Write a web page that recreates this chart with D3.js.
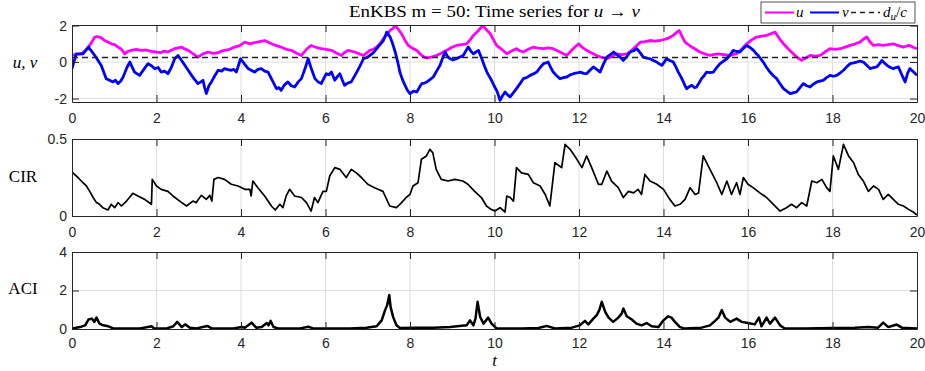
<!DOCTYPE html>
<html>
<head>
<meta charset="utf-8">
<script src="https://cdn.jsdelivr.net/npm/d3@7"></script>
<style>
body { margin: 0; background: #fff; }
svg { display: block; }
.tick text { font-family: "Liberation Sans", Arial, sans-serif; font-size: 14px; fill: #262626; }
.serif { font-family: "Liberation Serif", "DejaVu Serif", serif; fill: #000; }
</style>
</head>
<body>
<div id="chart"></div>
<script>
// ---- data ----
var xTicks = [0, 2, 4, 6, 8, 10, 12, 14, 16, 18, 20];
var uvTicks = [-2, 0, 2];
var cirTicks = [0, 0.5];
var aciTicks = [0, 2, 4];
var duc = 0.25;

var uTime = [0,0.1,0.22,0.3,0.38,0.46,0.54,0.6,0.65,0.71,0.77,0.85,0.93,1.01,1.09,1.17,1.25,1.32,1.4,1.52,1.64,1.76,1.88,2.0,2.1,2.18,2.27,2.35,2.43,2.51,2.59,2.67,2.75,2.87,2.98,3.1,3.22,3.34,3.46,3.54,3.61,3.73,3.85,3.97,4.09,4.2,4.32,4.44,4.56,4.64,4.72,4.84,4.95,5.07,5.19,5.31,5.43,5.55,5.66,5.78,5.9,6.02,6.14,6.26,6.38,6.45,6.53,6.61,6.69,6.8,6.9,6.98,7.05,7.13,7.21,7.29,7.37,7.45,7.53,7.6,7.65,7.72,7.8,7.88,7.96,8.06,8.16,8.22,8.28,8.34,8.4,8.52,8.63,8.75,8.87,8.98,9.1,9.22,9.34,9.42,9.5,9.61,9.72,9.8,9.9,9.98,10.05,10.17,10.29,10.4,10.52,10.6,10.68,10.8,10.92,11.04,11.16,11.28,11.39,11.55,11.71,11.85,11.99,12.08,12.18,12.3,12.42,12.54,12.66,12.78,12.89,13.01,13.13,13.23,13.33,13.45,13.56,13.68,13.8,13.92,14.07,14.15,14.23,14.3,14.37,14.44,14.51,14.59,14.67,14.76,14.86,14.98,15.1,15.2,15.3,15.44,15.57,15.65,15.73,15.85,15.97,16.08,16.2,16.32,16.44,16.54,16.64,16.74,16.84,16.96,17.07,17.17,17.27,17.37,17.47,17.59,17.71,17.82,17.94,18.06,18.18,18.3,18.42,18.54,18.65,18.73,18.81,18.89,18.97,19.08,19.2,19.32,19.44,19.56,19.68,19.76,19.83,19.92,20];
var uValues = [0.36,0.42,0.45,0.6,0.8,1.05,1.37,1.4,1.37,1.3,1.18,1.1,1.0,0.95,0.82,0.7,0.45,0.58,0.64,0.7,0.64,0.66,0.58,0.55,0.51,0.6,0.55,0.65,0.73,0.78,0.82,0.72,0.64,0.45,0.27,0.45,0.55,0.48,0.51,0.6,0.64,0.7,0.82,0.9,1.09,1.0,1.06,1.12,1.18,1.1,1.0,0.9,0.82,0.7,0.64,0.5,0.36,0.7,0.91,0.8,0.73,0.7,0.64,0.5,0.36,0.52,0.64,0.6,0.55,0.45,0.36,0.5,0.64,0.7,0.82,1.0,1.27,1.5,1.73,1.85,2.0,1.8,1.55,1.2,0.91,0.75,0.64,0.5,0.36,0.28,0.22,0.28,0.36,0.5,0.64,0.8,0.91,0.95,1.0,1.2,1.46,1.7,2.0,1.8,1.55,1.2,0.91,0.7,0.45,0.6,0.73,0.62,0.55,0.7,0.82,0.76,0.73,0.78,0.73,0.55,0.36,0.7,1.0,0.8,0.64,0.5,0.36,0.25,0.18,0.3,0.45,0.4,0.45,0.6,0.82,1.09,1.12,1.18,1.15,1.18,1.27,1.35,1.46,1.6,1.73,1.4,1.09,0.95,0.82,0.7,0.55,0.45,0.36,0.42,0.45,0.4,0.36,0.42,0.45,0.7,1.0,1.2,1.37,1.42,1.46,1.55,1.64,1.3,1.0,0.7,0.45,0.25,0.09,0.22,0.36,0.32,0.36,0.55,0.73,0.7,0.73,0.82,0.91,1.0,1.09,1.25,1.37,1.1,0.91,0.95,0.91,0.95,1.0,0.9,0.82,0.88,0.91,0.8,0.73];

var vTime = [0,0.1,0.26,0.39,0.54,0.69,0.81,0.89,0.97,1.03,1.09,1.15,1.21,1.3,1.37,1.48,1.6,1.7,1.8,1.88,1.96,2.04,2.11,2.19,2.27,2.35,2.43,2.51,2.59,2.67,2.75,2.83,2.9,2.98,3.04,3.1,3.14,3.18,3.24,3.3,3.38,3.46,3.54,3.61,3.69,3.77,3.83,3.89,3.99,4.08,4.17,4.24,4.32,4.4,4.48,4.56,4.64,4.74,4.84,4.9,4.95,5.03,5.11,5.19,5.27,5.35,5.43,5.51,5.59,5.67,5.75,5.83,5.9,5.96,6.02,6.08,6.14,6.22,6.28,6.34,6.4,6.45,6.53,6.61,6.68,6.74,6.82,6.9,6.98,7.05,7.13,7.21,7.29,7.37,7.45,7.53,7.59,7.65,7.71,7.76,7.82,7.88,7.94,8.0,8.08,8.16,8.22,8.28,8.34,8.4,8.48,8.55,8.63,8.71,8.77,8.83,8.89,8.95,9.02,9.1,9.18,9.26,9.32,9.38,9.44,9.5,9.56,9.62,9.7,9.76,9.82,9.88,9.93,9.99,10.05,10.09,10.13,10.19,10.25,10.31,10.37,10.44,10.52,10.6,10.68,10.76,10.84,10.92,11.0,11.08,11.16,11.22,11.27,11.33,11.39,11.47,11.55,11.63,11.71,11.79,11.87,11.95,12.03,12.11,12.18,12.26,12.34,12.42,12.5,12.58,12.66,12.74,12.82,12.9,12.97,13.05,13.13,13.21,13.29,13.37,13.45,13.52,13.6,13.68,13.76,13.84,13.9,13.96,14.02,14.07,14.15,14.23,14.29,14.35,14.41,14.47,14.51,14.55,14.61,14.67,14.73,14.78,14.84,14.9,14.96,15.02,15.1,15.18,15.26,15.34,15.42,15.5,15.58,15.65,15.73,15.81,15.89,15.97,16.05,16.13,16.18,16.24,16.3,16.36,16.44,16.52,16.6,16.68,16.76,16.84,16.92,17.0,17.08,17.15,17.23,17.31,17.39,17.47,17.55,17.63,17.7,17.78,17.86,17.94,18.02,18.1,18.18,18.26,18.34,18.42,18.5,18.57,18.65,18.73,18.81,18.89,18.97,19.05,19.11,19.17,19.23,19.29,19.37,19.44,19.5,19.56,19.64,19.72,19.78,19.83,19.92,20];
var vValues = [-0.36,0.45,0.45,0.82,0.36,-0.18,-0.91,-1.0,-1.09,-1.0,-1.18,-1.05,-0.82,-0.3,0,-0.55,-0.73,-0.4,-0.09,-0.2,-0.36,-0.3,-0.55,-0.5,-0.64,-0.3,0.18,0.36,0.1,-0.18,-0.45,-0.73,-0.95,-1.18,-1.1,-1.0,-1.4,-1.73,-1.3,-1.09,-0.75,-0.45,-0.5,-0.36,-0.42,-0.45,-0.4,-0.55,0.18,-0.1,-0.36,-0.45,-0.55,-0.4,-0.36,-0.5,-0.55,-1.0,-1.46,-1.4,-1.55,-1.25,-1.09,-1.3,-1.37,-1.1,-0.91,-0.4,0.18,-0.4,-0.91,-1.1,-1.18,-0.9,-0.64,-0.7,-0.55,-1.0,-0.8,-0.64,-1.0,-1.27,-1.15,-1.09,-0.8,-0.55,-0.2,0.18,0.25,0.36,0.5,0.73,0.95,1.18,1.64,1.37,1.0,0.55,0.0,-0.55,-0.95,-1.27,-1.55,-1.73,-1.6,-1.64,-1.4,-1.18,-1.15,-1.09,-0.95,-0.82,-0.5,-0.18,0.2,0.55,0.3,0.18,0.12,0.18,0.28,0.36,0.6,0.82,0.6,0.45,0.55,0.64,0.18,-0.2,-0.55,-0.8,-1.0,-1.3,-1.55,-1.8,-2.1,-1.85,-1.64,-1.8,-1.91,-1.7,-1.46,-1.2,-0.91,-0.85,-0.73,-0.65,-0.55,-0.3,-0.09,-0.05,0,-0.3,-0.55,-0.75,-0.91,-0.85,-0.82,-0.7,-0.64,-0.6,-0.55,-0.62,-0.64,-0.45,-0.27,-0.4,-0.55,-0.1,0.27,0.4,0.55,0.4,0.27,0.09,0.3,0.55,0.62,0.73,0.5,0.27,0.22,0.18,0.08,0,-0.1,-0.18,0.0,0.18,0.08,0,-0.25,-0.55,-0.8,-1.09,-1.3,-1.46,-1.35,-1.27,-1.4,-1.37,-1.15,-0.91,-0.75,-0.55,-0.58,-0.55,-0.3,-0.09,0.05,0.18,0.4,0.64,0.58,0.55,0.75,0.91,0.8,0.64,0.5,0.36,0.18,0,-0.3,-0.55,-0.75,-0.91,-1.2,-1.46,-1.6,-1.73,-1.68,-1.64,-1.4,-1.18,-1.3,-1.37,-1.2,-1.09,-1.05,-1.0,-0.85,-0.73,-0.78,-0.73,-0.6,-0.45,-0.25,-0.09,-0.05,0,0.05,0,-0.18,-0.36,-0.3,-0.27,-0.1,0.09,-0.05,-0.18,-0.3,-0.36,-0.3,-0.27,-0.7,-1.09,-0.6,-0.36,-0.55,-0.73];

var cirTime = [0,0.06,0.14,0.26,0.34,0.42,0.5,0.58,0.65,0.73,0.85,0.93,1.01,1.09,1.17,1.29,1.36,1.44,1.56,1.72,1.88,1.9,2.0,2.11,2.27,2.39,2.55,2.71,2.86,2.94,3.06,3.18,3.26,3.31,3.36,3.46,3.61,3.77,3.93,4.09,4.21,4.24,4.28,4.4,4.56,4.72,4.81,4.92,4.99,5.07,5.15,5.27,5.43,5.55,5.66,5.74,5.82,5.94,6.02,6.1,6.22,6.34,6.49,6.61,6.73,6.85,7.0,7.16,7.36,7.52,7.68,7.8,7.91,8.0,8.07,8.19,8.27,8.39,8.47,8.54,8.62,8.74,8.9,9.06,9.25,9.37,9.53,9.69,9.81,9.92,10.01,10.13,10.25,10.29,10.37,10.45,10.52,10.64,10.8,10.92,11.08,11.2,11.31,11.43,11.59,11.67,11.79,11.95,12.07,12.18,12.3,12.46,12.54,12.66,12.77,12.93,13.05,13.17,13.29,13.4,13.48,13.56,13.68,13.84,14.0,14.15,14.27,14.39,14.51,14.63,14.75,14.83,14.94,15.1,15.26,15.38,15.5,15.61,15.73,15.81,15.89,16.0,16.12,16.28,16.44,16.6,16.76,16.91,17.03,17.15,17.27,17.39,17.51,17.63,17.75,17.86,17.94,18.02,18.14,18.26,18.38,18.5,18.61,18.73,18.85,18.97,19.09,19.2,19.32,19.44,19.56,19.68,19.8,19.91,20];
var cirValues = [0.286,0.27,0.25,0.216,0.195,0.16,0.12,0.087,0.076,0.054,0.039,0.076,0.054,0.087,0.065,0.097,0.12,0.147,0.13,0.108,0.076,0.238,0.195,0.173,0.16,0.13,0.097,0.065,0.097,0.087,0.134,0.108,0.134,0.097,0.238,0.25,0.238,0.206,0.195,0.173,0.173,0.13,0.227,0.184,0.13,0.065,0.039,0.076,0.054,0.13,0.173,0.13,0.12,0.087,0.032,0.12,0.087,0.16,0.16,0.26,0.314,0.303,0.25,0.303,0.28,0.25,0.206,0.184,0.16,0.065,0.054,0.087,0.12,0.14,0.195,0.216,0.368,0.39,0.433,0.41,0.303,0.238,0.227,0.238,0.227,0.206,0.16,0.12,0.065,0.043,0.032,0.054,0.026,0.13,0.12,0.097,0.314,0.28,0.27,0.216,0.195,0.14,0.065,0.346,0.314,0.465,0.433,0.368,0.314,0.39,0.314,0.206,0.206,0.292,0.227,0.184,0.12,0.16,0.15,0.173,0.14,0.27,0.227,0.206,0.173,0.108,0.065,0.076,0.108,0.184,0.14,0.15,0.39,0.303,0.216,0.14,0.227,0.14,0.216,0.14,0.25,0.206,0.184,0.15,0.12,0.076,0.032,0.054,0.076,0.054,0.087,0.065,0.227,0.216,0.238,0.184,0.16,0.39,0.303,0.465,0.39,0.346,0.27,0.227,0.16,0.195,0.173,0.108,0.14,0.108,0.076,0.065,0.043,0.026,0.006];

var aciTime = [0,0.19,0.31,0.39,0.47,0.53,0.58,0.65,0.74,0.86,0.98,1.29,1.61,1.89,1.94,2.24,2.4,2.49,2.6,2.68,2.79,2.95,3.2,3.31,3.82,4.02,4.09,4.25,4.36,4.49,4.61,4.65,4.7,4.77,4.88,5.4,5.59,5.71,6.58,6.97,7.21,7.33,7.41,7.46,7.51,7.54,7.6,7.68,7.76,8.16,8.55,8.95,9.34,9.42,9.5,9.55,9.6,9.66,9.74,9.85,9.93,10.05,10.64,11.04,11.23,11.43,11.83,12.02,12.14,12.22,12.34,12.42,12.48,12.54,12.62,12.7,12.81,12.93,13.01,13.05,13.13,13.25,13.36,13.48,13.6,13.72,13.88,14.0,14.11,14.19,14.27,14.39,14.51,14.9,15.1,15.22,15.3,15.38,15.46,15.58,15.73,15.85,16.0,16.16,16.26,16.32,16.44,16.52,16.64,16.76,16.87,17.35,17.98,18.53,18.85,19.08,19.2,19.32,19.52,19.64,20];
var aciValues = [0.02,0.1,0.19,0.49,0.54,0.37,0.59,0.28,0.19,0.14,0.03,0.03,0.03,0.14,0.03,0.03,0.14,0.37,0.1,0.24,0.07,0.03,0.16,0.03,0.03,0.1,0.07,0.33,0.07,0.1,0.31,0.19,0.42,0.1,0.03,0.03,0.12,0.03,0.03,0.07,0.14,0.45,0.98,1.24,1.76,1.15,0.63,0.19,0.05,0.07,0.07,0.1,0.19,0.45,0.19,0.54,1.41,0.63,0.28,0.59,0.28,0.03,0.02,0.05,0.16,0.03,0.07,0.19,0.42,0.24,0.54,0.72,0.98,1.41,0.89,0.59,0.37,0.59,0.8,1.06,0.66,0.49,0.28,0.19,0.31,0.14,0.1,0.45,0.66,0.59,0.37,0.1,0.02,0.07,0.19,0.42,0.59,0.98,0.59,0.37,0.54,0.37,0.31,0.24,0.59,0.14,0.59,0.28,0.59,0.19,0.03,0.02,0.05,0.07,0.1,0.07,0.33,0.1,0.23,0.07,0.03];

var legendLabels = ["u", "v", "du/c"];

// ---- layout ----
var width = 925, height = 371;
var left = 72, right = 917;
var gridColor = "#dedede", axisColor = "#262626";
var tickFmt = function(d) { return String(d); };

var svg = d3.select("#chart").append("svg")
  .attr("width", width)
  .attr("height", height);

var x = d3.scaleLinear().domain([0, 20]).range([left, right]);

function zip(ts, vs) {
  return ts.map(function(t, i) { return [t, vs[i]]; });
}

var panels = [
  { id: "uv", top: 25, bottom: 102, domain: [-2.19, 2.03], ticks: uvTicks, labelPad: 11,
    series: [
      { data: zip(uTime, uValues), color: "#ff00ff", width: 2.8 },
      { data: zip(vTime, vValues), color: "#0000ff", width: 2.8 },
      { data: [[0, duc], [20, duc]], color: "#222", width: 1.4, dash: "6,4" }
    ] },
  { id: "cir", top: 139, bottom: 216, domain: [0, 0.5], ticks: cirTicks, labelPad: 11,
    series: [ { data: zip(cirTime, cirValues), color: "#000", width: 1.7 } ] },
  { id: "aci", top: 252, bottom: 329, domain: [0, 4], ticks: aciTicks, labelPad: 9,
    series: [ { data: zip(aciTime, aciValues), color: "#000", width: 2.5 } ] }
];

panels.forEach(function(p) {
  var y = d3.scaleLinear().domain(p.domain).range([p.bottom, p.top]);
  var g = svg.append("g");

  // grid
  g.selectAll(".vgrid").data(xTicks.slice(1, -1)).enter().append("line")
    .attr("x1", function(d) { return x(d); }).attr("x2", function(d) { return x(d); })
    .attr("y1", p.top).attr("y2", p.bottom)
    .attr("stroke", gridColor).attr("stroke-width", 1);
  g.selectAll(".hgrid").data(p.ticks.filter(function(d) { return y(d) > p.top + 1 && y(d) < p.bottom - 1; }))
    .enter().append("line")
    .attr("x1", left).attr("x2", right)
    .attr("y1", function(d) { return y(d); }).attr("y2", function(d) { return y(d); })
    .attr("stroke", gridColor).attr("stroke-width", 1);

  // clip
  svg.append("clipPath").attr("id", "clip-" + p.id).append("rect")
    .attr("x", left).attr("y", p.top).attr("width", right - left).attr("height", p.bottom - p.top);

  var line = d3.line()
    .x(function(d) { return x(d[0]); })
    .y(function(d) { return y(d[1]); });

  var lines = g.append("g").attr("clip-path", "url(#clip-" + p.id + ")");
  p.series.forEach(function(s) {
    lines.append("path")
      .datum(s.data)
      .attr("d", line)
      .attr("fill", "none")
      .attr("stroke", s.color)
      .attr("stroke-width", s.width)
      .attr("stroke-linejoin", "round")
      .attr("stroke-dasharray", s.dash || null);
  });

  // axes (ticks inside, box all round)
  var ax = g.append("g").attr("transform", "translate(0," + p.bottom + ")")
    .call(d3.axisBottom(x).tickValues(xTicks).tickFormat(tickFmt).tickSizeInner(-7).tickSizeOuter(0).tickPadding(p.labelPad));
  var axTop = g.append("g").attr("transform", "translate(0," + p.top + ")")
    .call(d3.axisTop(x).tickValues(xTicks).tickSizeInner(-7).tickSizeOuter(0).tickFormat(""));
  var ay = g.append("g").attr("transform", "translate(" + left + ",0)")
    .call(d3.axisLeft(y).tickValues(p.ticks).tickFormat(tickFmt).tickSizeInner(-7).tickSizeOuter(0).tickPadding(5));
  var ayR = g.append("g").attr("transform", "translate(" + right + ",0)")
    .call(d3.axisRight(y).tickValues(p.ticks).tickSizeInner(-7).tickSizeOuter(0).tickFormat(""));
  [ax, axTop, ay, ayR].forEach(function(a) {
    a.select(".domain").attr("stroke", axisColor);
    a.selectAll(".tick line").attr("stroke", axisColor);
  });
});

// y labels
svg.append("text").attr("class", "serif").attr("x", 25).attr("y", 68)
  .attr("text-anchor", "middle").style("font-size", "17px").style("font-style", "italic")
  .text("u, v");
svg.append("text").attr("class", "serif").attr("x", 23).attr("y", 182)
  .attr("text-anchor", "middle").style("font-size", "17px").text("CIR");
svg.append("text").attr("class", "serif").attr("x", 23).attr("y", 294)
  .attr("text-anchor", "middle").style("font-size", "17px").text("ACI");

// x label
svg.append("text").attr("class", "serif").attr("x", x(10)).attr("y", 366)
  .attr("text-anchor", "middle").style("font-size", "17px").style("font-style", "italic").text("t");

// title
var title = svg.append("text").attr("class", "serif").attr("x", 349).attr("y", 17)
  .attr("textLength", 291).attr("lengthAdjust", "spacingAndGlyphs")
  .style("font-size", "16.5px");
title.append("tspan").text("EnKBS m = 50: Time series for ");
title.append("tspan").style("font-style", "italic").text("u");
title.append("tspan").text(" \u2192 ");
title.append("tspan").style("font-style", "italic").text("v");

// legend
var legend = svg.append("g");
legend.append("rect").attr("x", 761).attr("y", 2).attr("width", 154).attr("height", 21)
  .attr("fill", "#fff").attr("stroke", axisColor).attr("stroke-width", 0.8);
var legendItems = [
  { x0: 765, x1: 794, tx: 796, color: "#ff00ff", width: 2, dash: null },
  { x0: 810, x1: 839, tx: 842, color: "#0000ff", width: 2, dash: null },
  { x0: 851, x1: 880, tx: 883, color: "#222", width: 1.4, dash: "5,4" }
];
legendItems.forEach(function(it, i) {
  legend.append("line").attr("x1", it.x0).attr("x2", it.x1).attr("y1", 12.5).attr("y2", 12.5)
    .attr("stroke", it.color).attr("stroke-width", it.width).attr("stroke-dasharray", it.dash);
  var t = legend.append("text").attr("class", "serif").attr("x", it.tx).attr("y", 17)
    .style("font-size", "15px").style("font-style", "italic");
  var lab = legendLabels[i];
  if (lab === "du/c") {
    t.append("tspan").text("d");
    t.append("tspan").attr("dy", 3).style("font-size", "11px").text("u");
    t.append("tspan").attr("dy", -3).style("font-style", "normal").text("/");
    t.append("tspan").text("c");
  } else {
    t.text(lab);
  }
});
</script>
</body>
</html>
